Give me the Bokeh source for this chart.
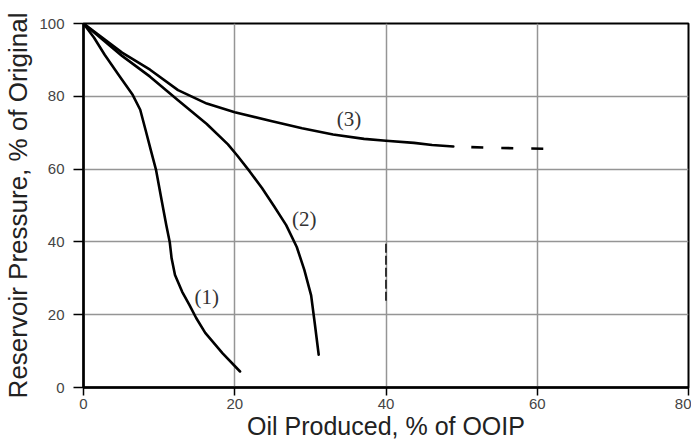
from bokeh.plotting import figure
from bokeh.models import FixedTicker, Range1d
from bokeh.embed import file_html
from bokeh.resources import INLINE
from bokeh.core.properties import value

# ---- data ----
x_ticks = [0, 20, 40, 60, 80]
y_ticks = [0, 20, 40, 60, 80, 100]

curve1_x = [0, 1.4, 2.8, 4.7, 6.5, 7.5, 8.2, 8.9, 9.6, 10.3, 10.95, 11.4, 11.65, 12.1, 13.05, 14.0, 14.9, 16.1, 18.4, 20.7]
curve1_y = [100, 96.1, 91.4, 85.7, 80.4, 76.3, 70.8, 65.2, 59.7, 51.8, 44.6, 40.0, 35.5, 30.9, 26.3, 22.7, 19.1, 15.0, 9.4, 4.4]

curve2_x = [0, 5.1, 8.8, 12.5, 16.3, 19.1, 20.3, 22.0, 23.6, 25.2, 26.8, 28.2, 29.2, 30.1, 30.6, 31.1]
curve2_y = [100, 91.1, 85.4, 78.9, 72.4, 66.8, 63.8, 59.3, 54.8, 49.8, 44.6, 38.6, 32.3, 25.3, 17.3, 9.0]

curve3_x = [0, 5.1, 8.8, 12.5, 16.3, 20.0, 24.8, 28.9, 33.0, 37.1, 40.0, 43.7, 46.1, 48.9]
curve3_y = [100, 92.0, 87.3, 81.7, 78.0, 75.6, 73.2, 71.2, 69.5, 68.3, 67.8, 67.2, 66.6, 66.2]

curve3_ext_x = [48.9, 55.0, 61.0]
curve3_ext_y = [66.2, 65.8, 65.6]

marker_x = [40, 40]
marker_y = [39.5, 23.5]

label_text = ["(1)", "(2)", "(3)"]
label_x = [16.3, 29.2, 35.1]
label_y = [25.0, 46.3, 73.7]

x_label = "Oil Produced, % of OOIP"
y_label = "Reservoir Pressure, % of Original"

# ---- figure ----
p = figure(width=691, height=442, output_backend="svg", toolbar_location=None,
           x_range=Range1d(0, 80), y_range=Range1d(0, 100),
           min_border_left=82, min_border_top=23, min_border_right=3, min_border_bottom=55)
p.background_fill_color = "white"
p.border_fill_color = "white"
p.outline_line_color = "black"
p.outline_line_width = 2

for ax in (p.xaxis, p.yaxis):
    ax.axis_line_color = "black"
    ax.axis_line_width = 2.5
    ax.major_tick_line_color = "black"
    ax.major_tick_line_width = 1.5
    ax.major_tick_in = 0
    ax.minor_tick_line_color = None
    ax.major_label_text_font = "Liberation Sans"
    ax.major_label_text_font_size = "15px"
    ax.major_label_text_color = "#444444"
    ax.axis_label_text_font = "Liberation Sans"
    ax.axis_label_text_font_style = "normal"
    ax.axis_label_text_color = "#222222"

p.xaxis.ticker = FixedTicker(ticks=x_ticks)
p.yaxis.ticker = FixedTicker(ticks=y_ticks)
p.xaxis.major_tick_out = 8
p.yaxis.major_tick_out = 10
p.xaxis.major_label_standoff = 3
p.yaxis.major_label_standoff = 9
p.xaxis.axis_label = x_label
p.yaxis.axis_label = y_label
p.xaxis.axis_label_text_font_size = "25px"
p.yaxis.axis_label_text_font_size = "26px"
p.xaxis.axis_label_standoff = 0
p.yaxis.axis_label_standoff = 3

p.xgrid.ticker = FixedTicker(ticks=x_ticks)
p.ygrid.ticker = FixedTicker(ticks=y_ticks)
p.grid.grid_line_color = "#959595"
p.grid.grid_line_width = 1.5

# ---- curves ----
for xs, ys in ((curve1_x, curve1_y), (curve2_x, curve2_y), (curve3_x, curve3_y)):
    p.line(xs, ys, line_color="black", line_width=2.6, line_join="round", line_cap="round")

p.line(curve3_ext_x, curve3_ext_y, line_color="black", line_width=2.6,
       line_dash="12 18", line_dash_offset=12)
p.line(marker_x, marker_y, line_color="#333333", line_width=2, line_dash="9 3")

p.text(x=label_x, y=label_y, text=label_text, text_font=value("Liberation Serif"),
       text_font_size="21px", text_color="#333333", text_align="center",
       text_baseline="middle")

open("out.html", "w").write(file_html(p, INLINE))
